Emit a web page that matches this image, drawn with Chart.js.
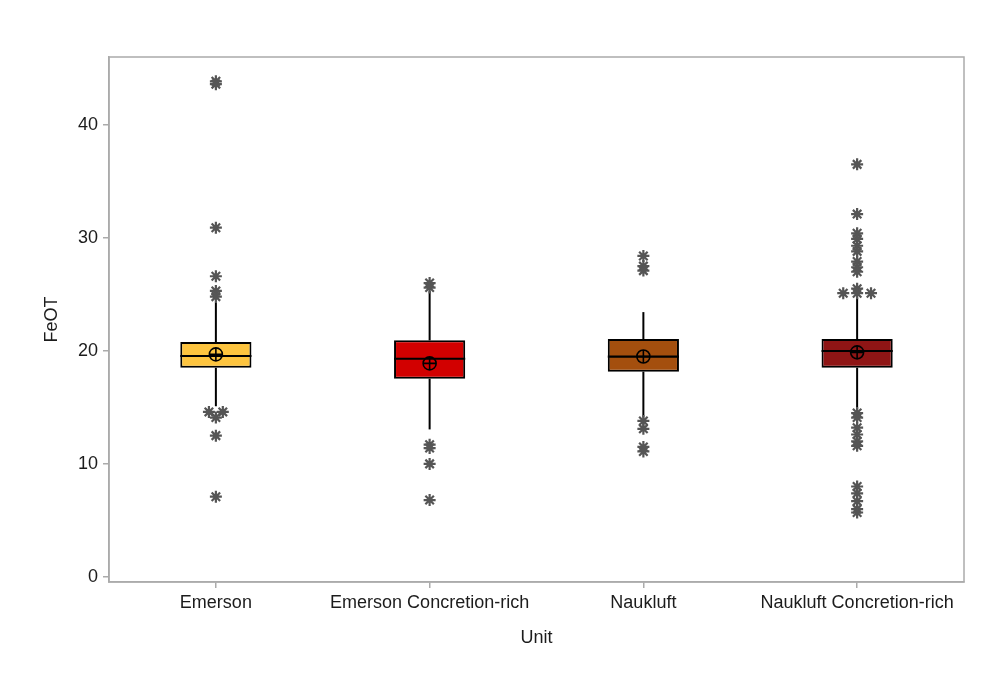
<!DOCTYPE html>
<html><head><meta charset="utf-8">
<script src="https://cdn.jsdelivr.net/npm/chart.js@4.4.0/dist/chart.umd.min.js"></script>
<style>html,body{margin:0;padding:0;background:#fff;}</style>
</head><body>
<canvas id="c" width="1000" height="675"></canvas>
<script>
const categories = ['Emerson', 'Emerson Concretion-rich', 'Naukluft', 'Naukluft Concretion-rich'];
const q1 = [18.5, 17.54, 18.16, 18.51];
const medians = [19.54, 19.31, 19.49, 19.98];
const q3 = [20.78, 20.93, 21.04, 21.04];
const whiskerLow = [15.1, 13.05, 14.09, 14.8];
const whiskerHigh = [24.3, 25.29, 23.43, 24.7];
const means = [19.69, 18.89, 19.5, 19.87];
const outliersEmerson = [43.85, 43.6, 30.9, 26.6, 25.3, 24.8, 14.6, 14.6, 14.1, 12.5, 7.1];
const outliersEmersonCR = [26.0, 25.6, 11.7, 11.4, 10.0, 6.8];
const outliersNaukluft = [28.4, 27.5, 27.1, 13.8, 13.1, 11.5, 11.1];
const outliersNaukluftCR = [36.5, 32.1, 30.4, 29.9, 29.3, 28.8, 27.9, 27.4, 27.0, 25.5, 25.1, 25.1, 25.1,
  14.5, 14.1, 13.2, 12.6, 12.0, 11.6, 8.0, 7.4, 6.7, 6.0, 5.7];
const yTicks = [0, 10, 20, 30, 40];

const boxColors = ['#FDC43F', '#D20000', '#A44F0E', '#8F1515'];
const FONT = {family: '"Liberation Sans", Arial, sans-serif', size: 18};
const TEXT = '#1c1c1c';
const FRAME = '#ababab';

// outliers: equal values are placed side by side (Minitab style)
const outlierSets = [outliersEmerson, outliersEmersonCR, outliersNaukluft, outliersNaukluftCR];
const outlierPoints = [];
outlierSets.forEach((vals, i) => {
  const counts = {};
  vals.forEach(v => { counts[v] = (counts[v] || 0) + 1; });
  const seen = {};
  vals.forEach(v => {
    const n = counts[v];
    const k = seen[v] = (seen[v] === undefined ? 0 : seen[v] + 1);
    outlierPoints.push({x: i + (k - (n - 1) / 2) * 0.065, y: v});
  });
});

const idx = categories.map((_, i) => i);
const barCommon = {type: 'bar', grouped: false, borderSkipped: false, categoryPercentage: 1, barPercentage: 0.333};

const framePlugin = {
  id: 'frame',
  beforeDatasetsDraw(chart) {
    const {ctx, chartArea: a} = chart;
    ctx.save();
    ctx.strokeStyle = FRAME;
    ctx.lineWidth = 1.5;
    ctx.strokeRect(a.left, a.top, a.right - a.left, a.bottom - a.top);
    ctx.restore();
  }
};

new Chart(document.getElementById('c'), {
  type: 'bar',
  data: {
    datasets: [
      {type: 'scatter', data: outlierPoints, pointStyle: 'star', pointRadius: 6, borderColor: '#555', backgroundColor: '#555', borderWidth: 2.2, order: 1},
      {type: 'scatter', data: idx.map(i => ({x: i, y: means[i]})), pointStyle: 'circle', pointRadius: 6.5, borderColor: '#000', backgroundColor: 'rgba(0,0,0,0)', borderWidth: 1.6, order: 2},
      {type: 'scatter', data: idx.map(i => ({x: i, y: means[i]})), pointStyle: 'cross', pointRadius: 6.5, borderColor: '#000', borderWidth: 1.6, order: 3},
      Object.assign({}, barCommon, {data: idx.map(i => ({x: i, y: [medians[i] - 0.09, medians[i] + 0.09]})), backgroundColor: '#000', borderWidth: 0, order: 4}),
      Object.assign({}, barCommon, {data: idx.map(i => ({x: i, y: [q1[i], q3[i]]})), backgroundColor: boxColors, borderColor: '#000', borderWidth: 2, order: 5}),
      Object.assign({}, barCommon, {data: idx.map(i => ({x: i, y: [q3[i], whiskerHigh[i]]})), backgroundColor: '#000', borderWidth: 0, maxBarThickness: 2, order: 6}),
      Object.assign({}, barCommon, {data: idx.map(i => ({x: i, y: [whiskerLow[i], q1[i]]})), backgroundColor: '#000', borderWidth: 0, maxBarThickness: 2, order: 7})
    ]
  },
  options: {
    responsive: false,
    devicePixelRatio: 1,
    animation: false,
    layout: {padding: {left: 30, top: 57, right: 36, bottom: 15}},
    plugins: {legend: {display: false}, tooltip: {enabled: false}},
    scales: {
      x: {
        type: 'linear', min: -0.5, max: 3.5, offset: false,
        afterBuildTicks: s => { s.ticks = idx.map(i => ({value: i})); },
        afterFit: s => { s.height = 78; },
        ticks: {callback: v => categories[v], autoSkip: false, maxRotation: 0, font: FONT, color: TEXT, padding: 4},
        grid: {drawOnChartArea: false, offset: false, tickLength: 6, color: FRAME, lineWidth: 1.5},
        border: {color: FRAME, width: 1.5},
        title: {display: true, text: 'Unit', font: FONT, color: TEXT, padding: {top: 0, bottom: 11}}
      },
      y: {
        type: 'linear', min: -0.45, max: 46,
        afterBuildTicks: s => { s.ticks = yTicks.map(v => ({value: v})); },
        afterFit: s => { s.width = 79; },
        ticks: {font: FONT, color: TEXT, padding: 5},
        grid: {drawOnChartArea: false, tickLength: 6, color: FRAME, lineWidth: 1.5},
        border: {color: FRAME, width: 1.5},
        title: {display: true, text: 'FeOT', font: FONT, color: TEXT, padding: {top: 11, bottom: 0}}
      }
    }
  },
  plugins: [framePlugin]
});
</script>
</body></html>
